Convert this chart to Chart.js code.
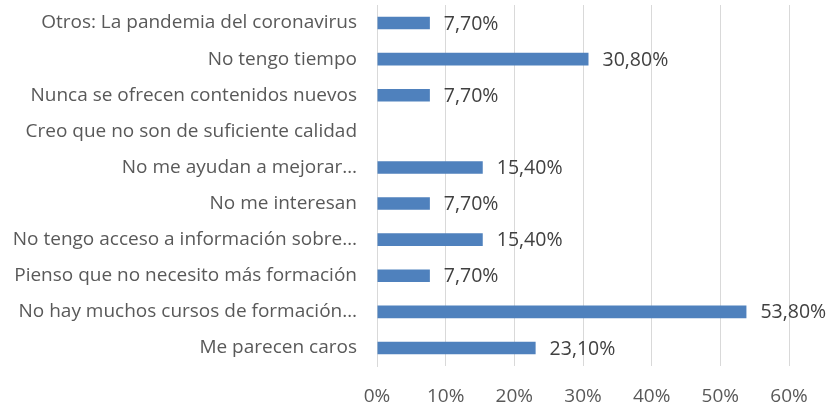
<!DOCTYPE html>
<html>
<head>
<meta charset="utf-8">
<script src="https://cdn.jsdelivr.net/npm/chart.js@4/dist/chart.umd.min.js"></script>
<style>
    html, body { margin: 0; padding: 0; background: #fff; }
    #wrap { width: 829px; height: 406px; }
</style>
</head>
<body>
<div id="wrap"><canvas id="chart"></canvas></div>
<script>
const categories = [
    'Otros: La pandemia del coronavirus',
    'No tengo tiempo',
    'Nunca se ofrecen contenidos nuevos',
    'Creo que no son de suficiente calidad',
    'No me ayudan a mejorar…',
    'No me interesan',
    'No tengo acceso a información sobre…',
    'Pienso que no necesito más formación',
    'No hay muchos cursos de formación…',
    'Me parecen caros',
];
const values = [7.7, 30.8, 7.7, null, 15.4, 7.7, 15.4, 7.7, 53.8, 23.1];
const tickValues = [0, 10, 20, 30, 40, 50, 60];

const FONT = '"Open Sans", sans-serif';

// writes "7,70%" style labels just past the end of each bar
const valueLabels = {
    id: 'valueLabels',
    afterDatasetsDraw(chart) {
        const ctx = chart.ctx;
        const meta = chart.getDatasetMeta(0);
        ctx.save();
        ctx.font = '19.5px ' + FONT;
        ctx.fillStyle = '#404040';
        ctx.textBaseline = 'middle';
        ctx.textAlign = 'left';
        meta.data.forEach((bar, i) => {
            const v = values[i];
            if (v == null) return;
            const txt = v.toFixed(2).replace('.', ',') + '%';
            ctx.fillText(txt, bar.x + 14, bar.y + 1);
        });
        ctx.restore();
    }
};

const config = {
    type: 'bar',
    data: {
        labels: categories,
        datasets: [{
            data: values,
            backgroundColor: 'rgb(79, 129, 189)',
            borderWidth: 0,
            categoryPercentage: 1,
            barPercentage: 0.35,
        }]
    },
    options: {
        indexAxis: 'y',
        responsive: true,
        maintainAspectRatio: false,
        animation: false,
        layout: { padding: { top: 5, right: 40, bottom: 0, left: 0 } },
        plugins: {
            legend: { display: false },
            tooltip: { enabled: false },
        },
        scales: {
            x: {
                min: 0,
                max: 60,
                afterBuildTicks(scale) {
                    scale.ticks = tickValues.map(v => ({ value: v }));
                },
                afterFit(scale) { scale.height = 40; },
                grid: { color: '#d9d9d9', lineWidth: 1, drawTicks: false },
                border: { display: false },
                ticks: {
                    padding: 19,
                    color: '#595959',
                    font: { family: FONT, size: 19 },
                    callback: v => v + '%',
                },
            },
            y: {
                afterFit(scale) {
                    scale.width = 377;
                    scale.paddingTop = 0;
                    scale.paddingBottom = 0;
                },
                grid: { display: false, drawTicks: false },
                border: { display: true, color: '#d9d9d9', width: 1 },
                ticks: {
                    padding: 20,
                    color: '#595959',
                    font: { family: FONT, size: 19 },
                    autoSkip: false,
                },
            },
        },
    },
    plugins: [valueLabels],
};

new Chart(document.getElementById('chart'), config);
</script>
</body>
</html>
